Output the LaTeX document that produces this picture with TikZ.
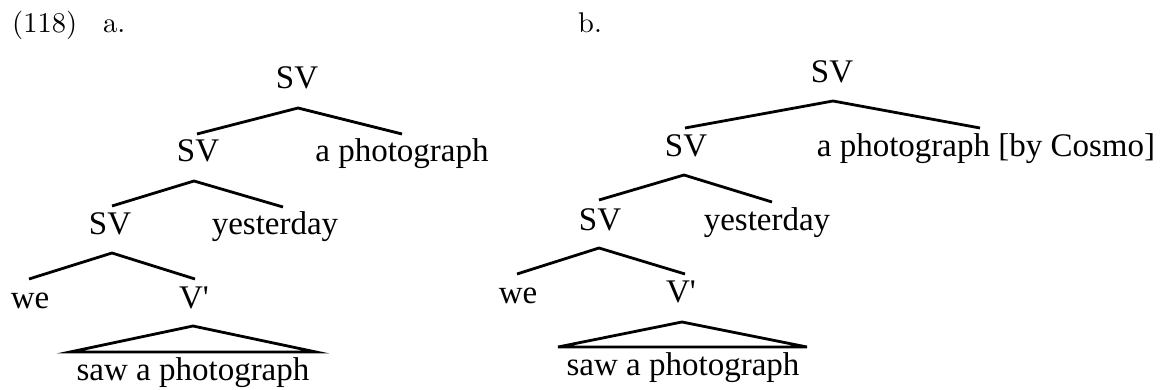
\documentclass[tikz,border=0pt]{standalone}
\usepackage{fontspec}
\newfontfamily\treefont{Liberation Serif}
\newfontfamily\lmten{lmroman10-regular.otf}
\newcommand\lblfont{\lmten\fontsize{28.5pt}{34pt}\selectfont}
\begin{document}
\begin{tikzpicture}[x=1pt,y=-1pt,
  lbl/.style={anchor=base west,inner sep=0pt},
  word/.style={anchor=base,inner sep=0pt,font=\treefont\fontsize{33}{40}\selectfont},
  branch/.style={line width=2.8pt,line cap=butt,line join=miter}]
\useasboundingbox (0,0) rectangle (1162,390);
% labels
\node[lbl] (num) at (12,33) {\lblfont (118)};
\node[lbl] (la) at (103,33) {\lblfont a.};
\node[lbl] (lb) at (578,33) {\lblfont b.};
% ---------- tree a ----------
\node[word] (a1) at (297,89) {SV};
\node[word] (a2) at (198,162) {SV};
\node[word] (a2r) at (402,162) {a photograph};
\node[word] (a3) at (110,235) {SV};
\node[word] (a3r) at (275,235) {yesterday};
\node[word] (a4l) at (30,308) {we};
\node[word] (a4r) at (194,308) {V\textquotesingle};
\node[word] (a5) at (193,380) {saw a photograph};
\coordinate (a1p) at (298,108);
\coordinate (a1L) at (197,134);
\coordinate (a1R) at (402,134);
\coordinate (a2p) at (194,181);
\coordinate (a2L) at (112,206);
\coordinate (a2R) at (283,207);
\coordinate (a3p) at (112,253);
\coordinate (a3L) at (29,279);
\coordinate (a3R) at (195,279);
\coordinate (a4p) at (193,326);
\coordinate (a4L) at (70,352);
\coordinate (a4R) at (316,352);
\draw[branch] (a1L) -- (a1p) -- (a1R);
\draw[branch] (a2L) -- (a2p) -- (a2R);
\draw[branch] (a3L) -- (a3p) -- (a3R);
\draw[branch] (a4L) -- (a4p) -- (a4R) -- cycle;
% ---------- tree b ----------
\node[word] (b1) at (832,83) {SV};
\node[word] (b2) at (686,157) {SV};
\node[word] (b2r) at (986,157) {a photograph [by Cosmo]};
\node[word] (b3) at (600,230) {SV};
\node[word] (b3r) at (767,230) {yesterday};
\node[word] (b4l) at (518,303) {we};
\node[word] (b4r) at (681,302) {V\textquotesingle};
\node[word] (b5) at (683,375) {saw a photograph};
\coordinate (b1p) at (833,101);
\coordinate (b1L) at (685,128);
\coordinate (b1R) at (980,128);
\coordinate (b2p) at (684,175);
\coordinate (b2L) at (599,200);
\coordinate (b2R) at (772,202);
\coordinate (b3p) at (599,248);
\coordinate (b3L) at (517,274);
\coordinate (b3R) at (685,274);
\coordinate (b4p) at (682,322);
\coordinate (b4L) at (558,347);
\coordinate (b4R) at (807,347);
\draw[branch] (b1L) -- (b1p) -- (b1R);
\draw[branch] (b2L) -- (b2p) -- (b2R);
\draw[branch] (b3L) -- (b3p) -- (b3R);
\draw[branch] (b4L) -- (b4p) -- (b4R) -- cycle;
\end{tikzpicture}
\end{document}
